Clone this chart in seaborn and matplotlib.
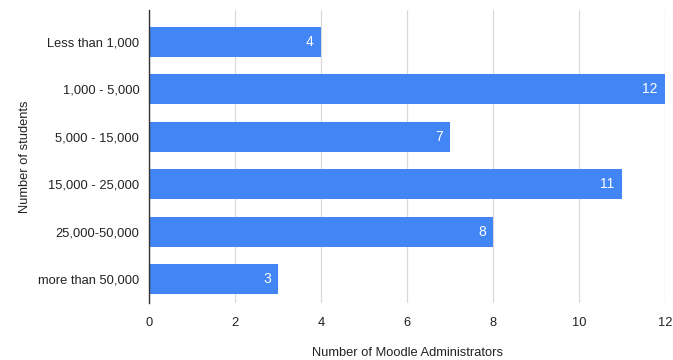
import matplotlib
matplotlib.use("Agg")
import matplotlib.pyplot as plt
import seaborn as sns
import pandas as pd

# datos del grafico
categorias = ["Less than 1,000", "1,000 - 5,000", "5,000 - 15,000",
              "15,000 - 25,000", "25,000-50,000", "more than 50,000"]
valores = [4, 12, 7, 11, 8, 3]

df = pd.DataFrame({"categoria": categorias, "valor": valores})

sns.set_theme(style="white")
plt.rcParams["font.family"] = ["Liberation Sans", "DejaVu Sans"]

fig = plt.figure(figsize=(6.73, 3.6), dpi=100)
ax = fig.add_axes([149 / 673, 1 - 303 / 360, (665 - 149) / 673, (303 - 10) / 360])

sns.barplot(data=df, x="valor", y="categoria", color="#4285f4", width=0.63,
            saturation=1, linewidth=0, ax=ax, zorder=3)

# etiquetas de valor dentro de las barras
for i, v in enumerate(valores):
    ax.text(v - 0.17, i, str(v), color="white", ha="right", va="center",
            fontsize=10, zorder=4)

ax.set_xlim(0, 12)
ax.set_ylim(5.5, -0.67)
ax.set_xticks(range(0, 13, 2))
ax.grid(axis="x", color="#d9d9d9", linewidth=0.9, zorder=0)
for s in ["top", "right", "bottom"]:
    ax.spines[s].set_visible(False)
ax.spines["left"].set_color("#333333")
ax.spines["left"].set_linewidth(1.0)
ax.spines["left"].set_zorder(5)
ax.tick_params(axis="both", length=0, labelsize=9.3, colors="#222222", pad=7)
ax.tick_params(axis="x", pad=10)

ax.set_xlabel("Number of Moodle Administrators", fontsize=9.3, color="#222222", labelpad=13)
ax.set_ylabel("Number of students", fontsize=9.3, color="#222222", labelpad=5)

fig.savefig("out.png", dpi=100)
